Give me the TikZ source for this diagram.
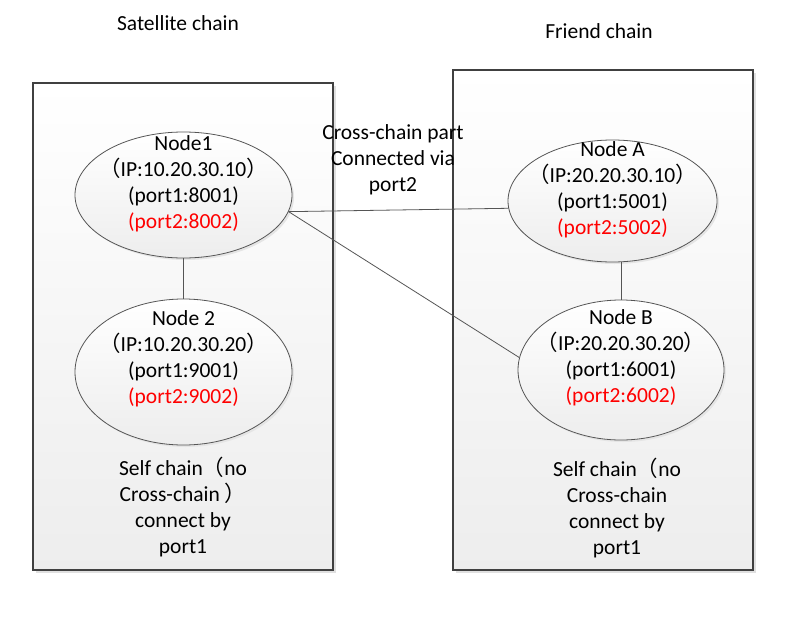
\documentclass[tikz,border=0pt]{standalone}
\usepackage{fontspec}
\setmainfont{Carlito}
\newfontfamily\cjk{Noto Sans CJK SC}
\newcommand\fwlp{{\cjk （}}
\newcommand\fwrp{{\cjk ）}}
\usetikzlibrary{shapes.geometric,shadows}
\definecolor{edgec}{HTML}{404040}
\definecolor{linec}{HTML}{555555}
\definecolor{portred}{HTML}{FF0000}
\tikzset{
  chainbox/.style={draw=edgec, line width=1.2pt, top color=white, bottom color=black!7,
    drop shadow={shadow xshift=3pt, shadow yshift=-3pt, fill=black!12, opacity=1}},
  nodeell/.style={ellipse, draw=linec, line width=0.8pt, inner sep=0pt, top color=white, bottom color=black!7,
    drop shadow={shadow xshift=2pt, shadow yshift=-2pt, fill=black!10, opacity=1}},
  lbl/.style={font=\fontsize{21.5}{26}\selectfont, align=center, inner sep=0pt, text=black},
  conn/.style={draw=linec, line width=0.8pt},
}
\begin{document}
\begin{tikzpicture}[x=1pt,y=-1pt]
\useasboundingbox[fill=white] (0,0) rectangle (789,629);
% boxes
\path[chainbox] (33,83) rectangle (333,570);
\path[chainbox] (453,70) rectangle (753,570);
% titles
\node[lbl] (tsat) at (178,23) {Satellite chain};
\node[lbl] (tfri) at (599,31) {Friend chain};
% ellipses
\node[nodeell, minimum width=217pt, minimum height=126pt] (n1) at (183.5,195) {};
\node[nodeell, minimum width=217pt, minimum height=146pt] (n2) at (183.5,372) {};
\node[nodeell, minimum width=209pt, minimum height=122pt] (na) at (612.5,201) {};
\node[nodeell, minimum width=206pt, minimum height=140pt] (nb) at (621,370) {};
% node texts
\node[lbl] (n1t) at (183.5,184) {Node1\\\fwlp IP:10.20.30.10\fwrp\\(port1:8001)\\\textcolor{portred}{(port2:8002)}};
\node[lbl] (n2t) at (183.5,359) {Node 2\\\fwlp IP:10.20.30.20\fwrp\\(port1:9001)\\\textcolor{portred}{(port2:9002)}};
\node[lbl] (nat) at (612.5,190) {Node A\\\fwlp IP:20.20.30.10\fwrp\\(port1:5001)\\\textcolor{portred}{(port2:5002)}};
\node[lbl] (nbt) at (621,358) {Node B\\\fwlp IP:20.20.30.20\fwrp\\(port1:6001)\\\textcolor{portred}{(port2:6002)}};
% other labels
\node[lbl] (cross) at (393,160) {Cross-chain part\\Connected via\\port2};
\node[lbl] (selfl) at (183,507) {Self chain\fwlp no\\Cross-chain \fwrp\\connect by\\port1};
\node[lbl] (selfr) at (617,508) {Self chain\fwlp no\\Cross-chain\\connect by\\port1};
% connectors
\draw[conn] (n1.-9) -- (na.184);
\draw[conn] (n1.-9) -- (nb.173);
\draw[conn] (n1.south) -- (n2.north);
\draw[conn] (nb.north |- na.south) -- (nb.north);
\end{tikzpicture}
\end{document}
